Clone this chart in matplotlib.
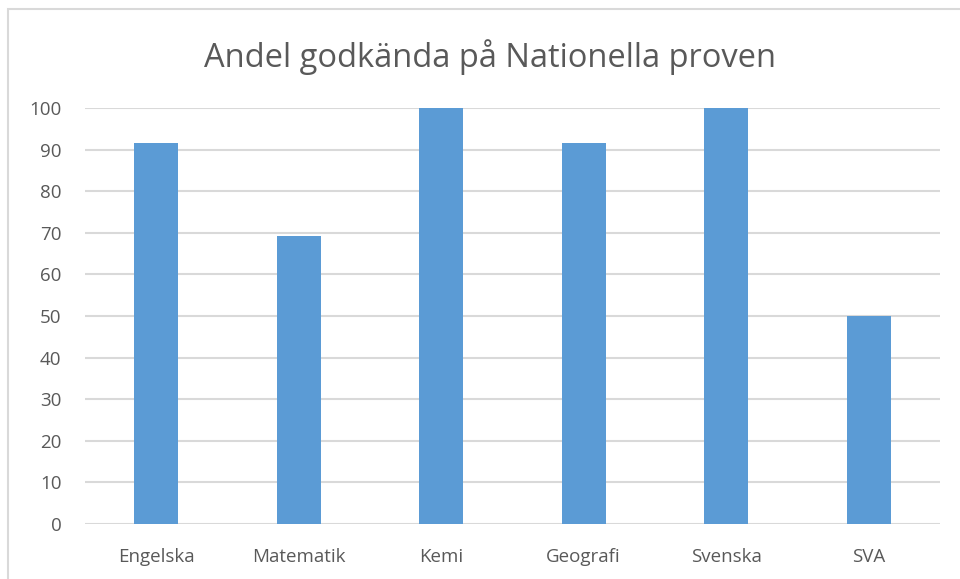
import matplotlib.pyplot as plt
from matplotlib.patches import Rectangle

# data
subjects = ["Engelska", "Matematik", "Kemi", "Geografi", "Svenska", "SVA"]
andel = [91.7, 69.2, 100, 91.7, 100, 50]
yticks = [0, 10, 20, 30, 40, 50, 60, 70, 80, 90, 100]

plt.rcParams["font.family"] = ["Open Sans", "DejaVu Sans"]

fig = plt.figure(figsize=(9.6, 5.79), dpi=100)
ax = fig.add_axes([0.0885, 0.095, 0.8905, 0.7185])

# ram runt diagrammet
fig.patches.append(Rectangle((0.008, -0.01), 1.2, 0.995, transform=fig.transFigure,
                             fill=False, edgecolor="#d9d9d9", linewidth=1.5))

ax.bar(range(len(subjects)), andel, width=0.31, color="#5b9bd5", zorder=3)

ax.set_xlim(-0.5, len(subjects) - 0.5)
ax.set_ylim(0, 100)
ax.set_yticks(yticks)
ax.set_xticks(range(len(subjects)))
ax.set_xticklabels(subjects)
ax.grid(axis="y", color="#d9d9d9", linewidth=1.5, zorder=0)
ax.tick_params(length=0, labelsize=13.5, colors="#595959", pad=17)
ax.tick_params(axis="y", pad=17)
for s in ax.spines.values():
    s.set_visible(False)

fig.text(0.51, 0.902, "Andel godkända på Nationella proven", ha="center", va="center",
         fontsize=23.5, color="#595959")

plt.savefig("out.png")
